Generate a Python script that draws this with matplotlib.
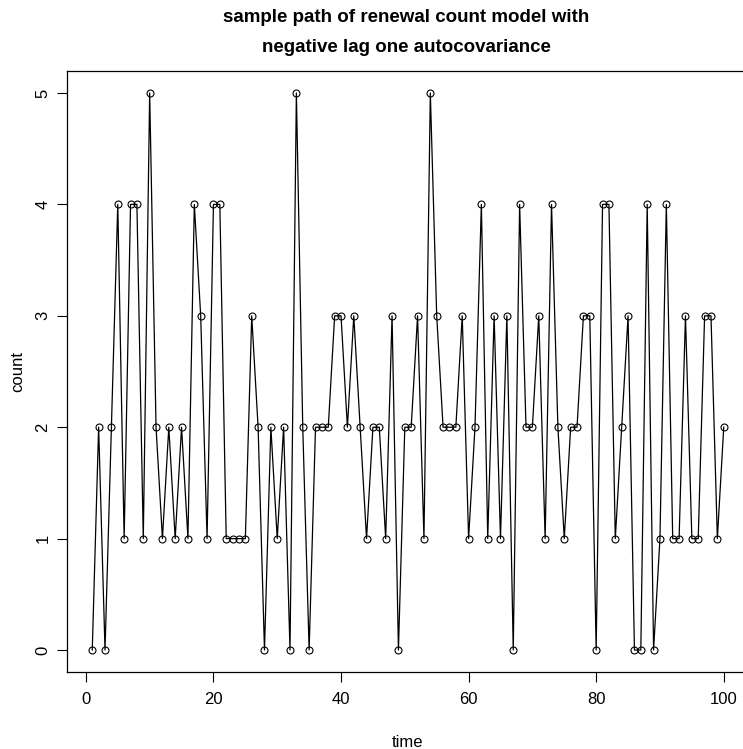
import numpy as np
import matplotlib
matplotlib.use("Agg")
import matplotlib.pyplot as plt

plt.rcParams['font.family'] = ['Liberation Sans', 'DejaVu Sans']

# renewal counts, time = 1..100
time = list(range(1, 101))
count = [0, 2, 0, 2, 4, 1, 4, 4, 1, 5,
         2, 1, 2, 1, 2, 1, 4, 3, 1, 4,
         4, 1, 1, 1, 1, 3, 2, 0, 2, 1,
         2, 0, 5, 2, 0, 2, 2, 2, 3, 3,
         2, 3, 2, 1, 2, 2, 1, 3, 0, 2,
         2, 3, 1, 5, 3, 2, 2, 2, 3, 1,
         2, 4, 1, 3, 1, 3, 0, 4, 2, 2,
         3, 1, 4, 2, 1, 2, 2, 3, 3, 0,
         4, 4, 1, 2, 3, 0, 0, 4, 0, 1,
         4, 1, 1, 3, 1, 1, 3, 3, 1, 2]
xticks = [0, 20, 40, 60, 80, 100]
yticks = [0, 1, 2, 3, 4, 5]

W, H = 743, 749
fig = plt.figure(figsize=(W / 100, H / 100), dpi=100)
# box in pixels: left 67, right 749 (cut off), top 70.7, bottom 672.3
ax = fig.add_axes([67 / W, (H - 672.3) / H, (749 - 67) / W, (672.3 - 70.7) / H])

ax.plot(time, count, color='black', lw=0.9, marker='o', markersize=5,
        markerfacecolor='none', markeredgecolor='black', markeredgewidth=0.8)

ax.set_xlim(1 - 99 * 0.04, 100 + 99 * 0.04)
ax.set_ylim(-0.2, 5.2)
ax.set_xticks(xticks)
ax.set_yticks(yticks)
ax.tick_params(direction='out', length=7, width=0.8, labelsize=12)
ax.tick_params(axis='x', pad=7)
ax.tick_params(axis='y', pad=5)
for lab in ax.get_yticklabels():
    lab.set_rotation(90)
    lab.set_va('center')
for s in ax.spines.values():
    s.set_linewidth(0.9)

ax.set_xlabel("time", fontsize=12, labelpad=20)
ax.set_ylabel("count", fontsize=12, labelpad=7)

fig.text(406 / W, 1 - 18 / H, "sample path of renewal count model with",
         ha='center', va='center', fontsize=13.5, fontweight='bold')
fig.text(406 / W, 1 - 47 / H, "negative lag one autocovariance",
         ha='center', va='center', fontsize=13.5, fontweight='bold')

fig.savefig("out.png", dpi=100)
